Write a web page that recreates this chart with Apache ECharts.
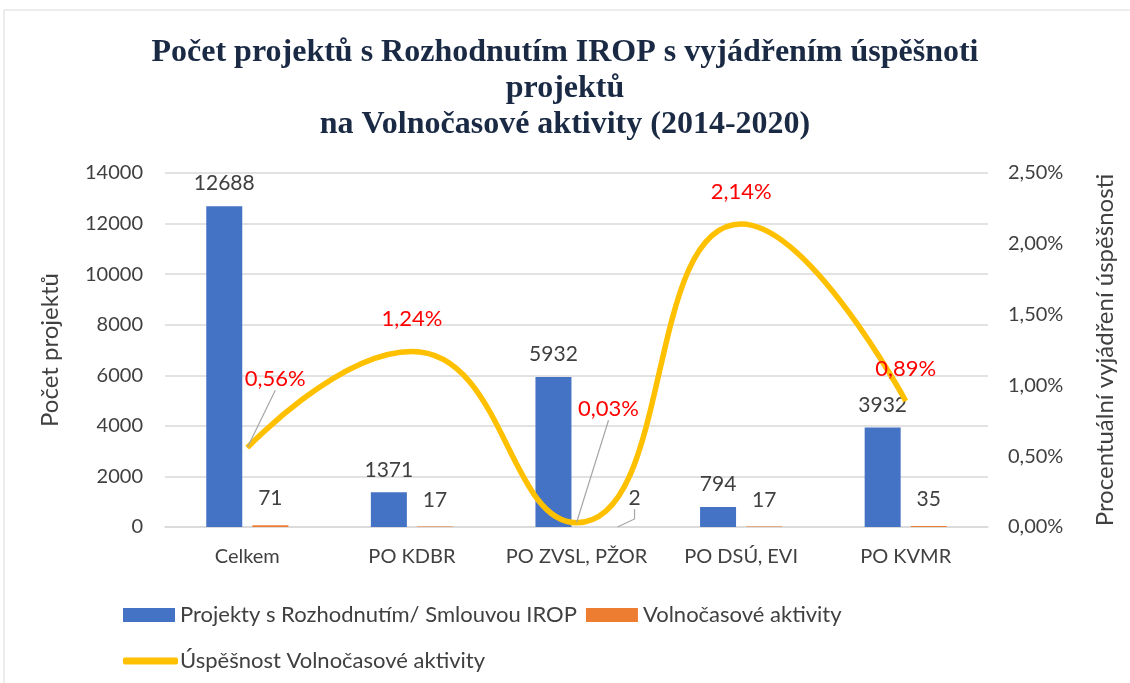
<!DOCTYPE html>
<html>
<head>
<meta charset="utf-8">
<script src="https://cdn.jsdelivr.net/npm/echarts@6/dist/echarts.min.js"></script>
<style>
  html, body { margin: 0; padding: 0; background: #fff; }
  #chart { width: 1130px; height: 683px; }
</style>
</head>
<body>
<div id="chart"></div>
<script>
// data
const categories = ['Celkem', 'PO KDBR', 'PO ZVSL, PŽOR', 'PO DSÚ, EVI', 'PO KVMR'];
const projectCounts = [12688, 1371, 5932, 794, 3932];
const leisureCounts = [71, 17, 2, 17, 35];
const successRates = [0.56, 1.24, 0.03, 2.14, 0.89];
const leftTicks = { min: 0, max: 14000, interval: 2000 };
const rightTicks = { min: 0, max: 2.5, interval: 0.5 };

// label offsets (style only)
const rateLabelShift = { 0: [28, -36], 2: [32, -81] };
const leisureLabelShift = { 2: [35, -2] };

const font = 'Lato, "Noto Sans", sans-serif';
const textGrey = '#404040';
const guide = { color: '#a6a6a6', width: 1.2 };
const fmtPct = (v) => v.toFixed(2).replace('.', ',') + '%';

// only the shifted labels get a leader line
const withGuides = (values, shifts) => values.map((v, i) => (
  shifts[i] ? { value: v, labelLine: { show: true, lineStyle: guide } } : v
));

const chart = echarts.init(document.getElementById('chart'));
chart.setOption({
  animation: false,
  textStyle: { fontFamily: font },
  title: {
    text: 'Počet projektů s Rozhodnutím IROP s vyjádřením úspěšnoti\nprojektů\nna Volnočasové aktivity (2014-2020)',
    left: 'center',
    top: 30,
    padding: [5, 5, 5, 25],
    textStyle: {
      fontFamily: '"Liberation Serif", "Times New Roman", serif',
      fontWeight: 'bold',
      fontSize: 32,
      lineHeight: 36,
      color: '#1a2a44'
    }
  },
  graphic: [{
    type: 'rect',
    shape: { x: 4, y: 10, width: 1140, height: 700 },
    style: { fill: 'none', stroke: '#d9d9d9', lineWidth: 1 },
    silent: true
  }],
  legend: [{
    data: ['Projekty s Rozhodnutím/ Smlouvou IROP', 'Volnočasové aktivity'],
    left: 118,
    top: 599,
    itemWidth: 52,
    itemHeight: 14,
    itemGap: 9,
    icon: 'rect',
    textStyle: { fontSize: 22, color: textGrey }
  }, {
    data: ['Úspěšnost Volnočasové aktivity'],
    left: 118,
    top: 645,
    itemWidth: 55,
    itemHeight: 7,
    icon: 'roundRect',
    textStyle: { fontSize: 22, color: textGrey, padding: [0, 0, 0, -3] }
  }],
  grid: { left: 165, right: 142, top: 173, bottom: 156 },
  xAxis: {
    type: 'category',
    data: categories,
    axisLine: { lineStyle: { color: '#d9d9d9', width: 1.5 } },
    axisTick: { show: false },
    axisLabel: { fontSize: 20, color: textGrey, margin: 20, interval: 0 }
  },
  yAxis: [{
    type: 'value',
    min: leftTicks.min,
    max: leftTicks.max,
    interval: leftTicks.interval,
    name: 'Počet projektů',
    nameLocation: 'middle',
    nameRotate: 90,
    nameGap: 103,
    nameTextStyle: { fontSize: 24, color: textGrey },
    axisLabel: { fontSize: 20, color: textGrey, margin: 22, formatter: (v) => String(v) },
    splitLine: { lineStyle: { color: '#d9d9d9', width: 1.5 } },
    axisLine: { show: false },
    axisTick: { show: false }
  }, {
    type: 'value',
    min: rightTicks.min,
    max: rightTicks.max,
    interval: rightTicks.interval,
    name: 'Procentuální vyjádření úspěšnosti',
    nameLocation: 'middle',
    nameRotate: 90,
    nameGap: 105,
    nameTextStyle: { fontSize: 24, color: textGrey },
    axisLabel: { fontSize: 20, color: textGrey, margin: 20, formatter: fmtPct },
    splitLine: { show: false },
    axisLine: { show: false },
    axisTick: { show: false }
  }],
  series: [{
    name: 'Projekty s Rozhodnutím/ Smlouvou IROP',
    type: 'bar',
    data: projectCounts,
    barWidth: 36,
    barGap: '28%',
    itemStyle: { color: '#4472c4' },
    label: { show: true, position: 'top', distance: 12, fontSize: 21, color: textGrey }
  }, {
    name: 'Volnočasové aktivity',
    type: 'bar',
    data: withGuides(leisureCounts, leisureLabelShift),
    barWidth: 36,
    itemStyle: { color: '#ed7d31' },
    label: { show: true, position: 'top', distance: 16, fontSize: 21, color: textGrey },
    labelLine: { show: false, length2: 10 },
    labelLayout: (p) => {
      const s = leisureLabelShift[p.dataIndex];
      return s ? { dx: s[0], dy: s[1] } : {};
    }
  }, {
    name: 'Úspěšnost Volnočasové aktivity',
    type: 'line',
    yAxisIndex: 1,
    data: withGuides(successRates, rateLabelShift),
    smooth: 0.5,
    symbol: 'circle',
    symbolSize: 1,
    showSymbol: true,
    lineStyle: { color: '#ffc000', width: 5.5 },
    itemStyle: { color: '#ffc000' },
    label: {
      show: true,
      position: 'top',
      distance: 21,
      fontSize: 22,
      color: '#ff0000',
      formatter: (p) => fmtPct(p.value)
    },
    labelLine: { show: false },
    labelLayout: (p) => {
      const s = rateLabelShift[p.dataIndex];
      return s ? { dx: s[0], dy: s[1] } : {};
    }
  }]
});
</script>
</body>
</html>
